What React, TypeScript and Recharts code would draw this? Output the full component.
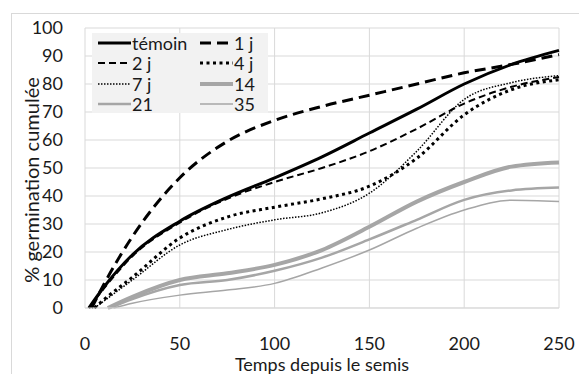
import { LineChart, Line, XAxis, YAxis, CartesianGrid } from 'recharts';

const DAYS = [10, 25, 50, 75, 100, 125, 150, 175, 200, 225, 250];

const TEMOIN = [7.5, 19, 31, 39.5, 46.5, 54, 62.5, 71, 80, 87, 92];
const J1 = [8.5, 25.5, 46.5, 59.5, 67, 72, 76, 80, 84, 87, 90.5];
const J2 = [7, 18.5, 30.5, 39, 45, 50, 56, 64, 73, 79, 82.5];
const J4 = [3, 11, 25, 32.5, 36, 39, 43.5, 53.5, 69, 78, 81.5];
const J7 = [2.5, 10, 22.5, 28, 31.5, 34, 41, 56, 74.5, 80.5, 83];
const D14 = [null, 4, 10, 12.4, 15.4, 20.7, 29, 38, 45, 50.5, 52];
const D21 = [null, 3.2, 8.2, 10, 13.3, 18, 24.5, 31.5, 38.6, 42, 43];
const D35 = [null, 1.7, 4.6, 6.4, 8.8, 14.3, 20.7, 28.5, 35, 38.5, 38];

// day at which each curve leaves zero
const FIRST_DAY = [2, 3.5, 2, 5, 5, 12, 13, 15];

const X_TICKS = [0, 50, 100, 150, 200, 250];
const Y_TICKS = [0, 10, 20, 30, 40, 50, 60, 70, 80, 90, 100];

const GREY = '#a6a6a6';
const TEXT = '#1a1a1a';
const FONT = 'Lato, "Open Sans", sans-serif';

const SERIES = [
  { name: 'témoin', values: TEMOIN, color: '#000', width: 3, dash: undefined },
  { name: '1 j', values: J1, color: '#000', width: 3, dash: '11 6' },
  { name: '2 j', values: J2, color: '#000', width: 2, dash: '7 4' },
  { name: '4 j', values: J4, color: '#000', width: 3, dash: '3 3.5' },
  { name: '7 j', values: J7, color: '#000', width: 1.5, dash: '1.5 1.5' },
  { name: '14', values: D14, color: GREY, width: 4, dash: undefined },
  { name: '21', values: D21, color: GREY, width: 2.5, dash: undefined },
  { name: '35', values: D35, color: GREY, width: 1.5, dash: undefined },
];

const toPoints = (values: (number | null)[], start: number) => [
  { x: start, y: 0 },
  ...DAYS.map((d, i) => ({ x: d, y: values[i] })).filter((p) => p.y !== null),
];

function LegendBox() {
  return (
    <div
      style={{
        position: 'absolute',
        left: 92,
        top: 33,
        width: 176,
        height: 80,
        background: '#f2f2f2',
      }}
    >
      {SERIES.map((s, i) => {
        const col = i % 2;
        const row = Math.floor(i / 2);
        return (
          <div
            key={s.name}
            style={{
              position: 'absolute',
              left: col === 0 ? 6 : 108,
              top: row * 20.3,
              height: 20,
              display: 'flex',
              alignItems: 'center',
              fontFamily: FONT,
              fontSize: 18,
              color: TEXT,
            }}
          >
            <svg width={33} height={10} style={{ marginRight: 1 }}>
              <line
                x1={0}
                y1={5}
                x2={33}
                y2={5}
                stroke={s.color}
                strokeWidth={s.width}
                strokeDasharray={s.dash}
              />
            </svg>
            <span>{s.name}</span>
          </div>
        );
      })}
    </div>
  );
}

export default function App() {
  return (
    <div
      style={{
        position: 'fixed',
        left: 0,
        top: 0,
        width: 579,
        height: 374,
        background: '#fff',
        overflow: 'hidden',
      }}
    >
      <div
        style={{
          position: 'absolute',
          left: 11,
          top: 13,
          width: 600,
          height: 400,
          border: '1px solid #d9d9d9',
        }}
      />
      <LineChart
        width={579}
        height={374}
        margin={{ top: 28, right: 20, bottom: 14, left: 25 }}
        style={{ position: 'absolute', left: 0, top: 0 }}
      >
        <CartesianGrid stroke="#d9d9d9" vertical horizontal />
        <XAxis
          type="number"
          dataKey="x"
          domain={[0, 250]}
          ticks={X_TICKS}
          height={52}
          tickLine={false}
          axisLine={{ stroke: '#d9d9d9' }}
          tick={{ fill: TEXT, fontSize: 18, fontFamily: FONT }}
          tickMargin={23}
          label={{
            value: 'Temps depuis le semis',
            position: 'insideBottom',
            offset: -11,
            fill: TEXT,
            fontSize: 18,
            fontFamily: FONT,
          }}
        />
        <YAxis
          type="number"
          domain={[0, 100]}
          ticks={Y_TICKS}
          width={60}
          tickLine={false}
          axisLine={false}
          tick={{ fill: TEXT, fontSize: 18, fontFamily: FONT }}
          tickMargin={16}
        />
        {SERIES.map((s, i) => (
          <Line
            key={s.name}
            data={toPoints(s.values, FIRST_DAY[i])}
            dataKey="y"
            type="monotone"
            stroke={s.color}
            strokeWidth={s.width}
            strokeDasharray={s.dash}
            dot={false}
            activeDot={false}
            isAnimationActive={false}
          />
        ))}
      </LineChart>
      <div
        style={{
          position: 'absolute',
          left: 31,
          top: 180,
          transform: 'translate(-50%, -50%) rotate(-90deg)',
          whiteSpace: 'nowrap',
          fontFamily: FONT,
          fontSize: 20,
          color: TEXT,
          lineHeight: 1,
        }}
      >
        % germination cumulée
      </div>
      <LegendBox />
    </div>
  );
}
